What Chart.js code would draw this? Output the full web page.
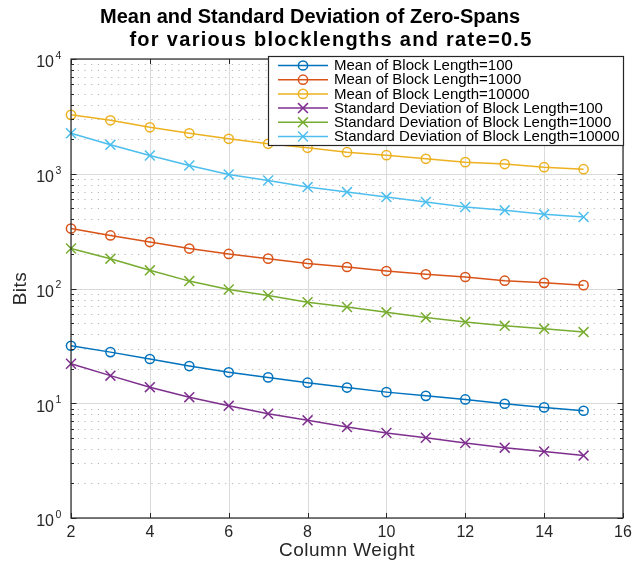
<!DOCTYPE html>
<html>
<head>
<meta charset="utf-8">
<script src="https://cdn.jsdelivr.net/npm/chart.js@4.4.1/dist/chart.umd.min.js"></script>
<style>
  html, body { margin: 0; padding: 0; background: #fff; }
  #wrap { width: 633px; height: 565px; }
</style>
</head>
<body>
<div id="wrap"><canvas id="chart" width="633" height="565"></canvas></div>
<script>
// data
const columnWeight = [2, 3, 4, 5, 6, 7, 8, 9, 10, 11, 12, 13, 14, 15];
const mean100   = [31.7, 27.9, 24.3, 21.1, 18.6, 16.8, 15.1, 13.7, 12.5, 11.6, 10.8, 9.9, 9.2, 8.6];
const mean1000  = [333, 290, 254, 223, 200, 182, 165, 154, 142, 133, 126, 117, 112, 107];
const mean10000 = [3260, 2924, 2541, 2254, 2015, 1824, 1683, 1541, 1452, 1350, 1262, 1215, 1141, 1096];
const std100    = [22.1, 17.4, 13.8, 11.3, 9.5, 8.1, 7.1, 6.2, 5.5, 5.0, 4.5, 4.1, 3.8, 3.5];
const std1000   = [223, 182, 144, 116, 98, 87, 76, 69, 62, 56, 51, 47.3, 44.5, 41.7];
const std10000  = [2254, 1787, 1442, 1181, 986, 874, 765, 692, 626, 567, 513, 480, 443, 420];

const seriesLabels = [
    "Mean of Block Length=100",
    "Mean of Block Length=1000",
    "Mean of Block Length=10000",
    "Standard Deviation of Block Length=100",
    "Standard Deviation of Block Length=1000",
    "Standard Deviation of Block Length=10000",
];
const xTicks = [2, 4, 6, 8, 10, 12, 14, 16];
const yExponents = [0, 1, 2, 3, 4];
const titleLines = ["Mean and Standard Deviation of Zero-Spans", "for various blocklengths and rate=0.5"];

const colors = ["#0072BD", "#D95319", "#EDB120", "#7E2F8E", "#77AC30", "#4DBEEE"];
const allValues = [mean100, mean1000, mean10000, std100, std1000, std10000];
const FONT = "'Liberation Sans', Arial, Helvetica, sans-serif";
const AXIS = "#262626";

function pairs(values) {
    return values.map((v, i) => ({ x: columnWeight[i], y: v }));
}

const datasets = allValues.map((vals, i) => ({
    label: seriesLabels[i],
    data: pairs(vals),
    borderColor: colors[i],
    backgroundColor: colors[i],
    borderWidth: 1.5,
    pointStyle: i < 3 ? "circle" : "crossRot",
    pointRadius: i < 3 ? 4.6 : 7,
    pointBorderWidth: 1.5,
    pointBackgroundColor: "rgba(255,255,255,0)",
    pointBorderColor: colors[i],
    tension: 0,
    clip: false,
    order: 6 - i,
}));

// grid, box, ticks and labels in MATLAB style
const matlabAxes = {
    id: "matlabAxes",
    beforeDatasetsDraw(chart) {
        const { ctx, chartArea: a, scales: { x, y } } = chart;
        ctx.save();
        // minor y grid (dotted)
        ctx.strokeStyle = "#b8b8b8";
        ctx.lineWidth = 1;
        ctx.setLineDash([1.2, 5.5]);
        yExponents.slice(0, -1).forEach(e => {
            for (let m = 2; m <= 9; m++) {
                const py = Math.round(y.getPixelForValue(m * Math.pow(10, e))) + 0.5;
                ctx.beginPath(); ctx.moveTo(a.left, py); ctx.lineTo(a.right, py); ctx.stroke();
            }
        });
        ctx.setLineDash([]);
        // major grid
        ctx.strokeStyle = "#dadada";
        yExponents.forEach(e => {
            const py = Math.round(y.getPixelForValue(Math.pow(10, e))) + 0.5;
            ctx.beginPath(); ctx.moveTo(a.left, py); ctx.lineTo(a.right, py); ctx.stroke();
        });
        xTicks.forEach(t => {
            const px = Math.round(x.getPixelForValue(t)) + 0.5;
            ctx.beginPath(); ctx.moveTo(px, a.top); ctx.lineTo(px, a.bottom); ctx.stroke();
        });
        ctx.restore();
    },
    afterDatasetsDraw(chart) {
        const { ctx, chartArea: a, scales: { x, y } } = chart;
        ctx.save();
        ctx.strokeStyle = AXIS;
        ctx.lineWidth = 1.2;
        ctx.strokeRect(a.left, a.top, a.right - a.left, a.bottom - a.top);
        ctx.lineWidth = 1;
        // x ticks, inward on bottom and top
        xTicks.forEach(t => {
            const px = Math.round(x.getPixelForValue(t)) + 0.5;
            ctx.beginPath();
            ctx.moveTo(px, a.bottom); ctx.lineTo(px, a.bottom - 5);
            ctx.moveTo(px, a.top); ctx.lineTo(px, a.top + 5);
            ctx.stroke();
        });
        // y ticks, inward on left and right
        yExponents.forEach(e => {
            for (let m = 1; m <= 9; m++) {
                if (e === yExponents[yExponents.length - 1] && m > 1) break;
                const py = Math.round(y.getPixelForValue(m * Math.pow(10, e))) + 0.5;
                const len = m === 1 ? 5.5 : 3;
                ctx.beginPath();
                ctx.moveTo(a.left, py); ctx.lineTo(a.left + len, py);
                ctx.moveTo(a.right, py); ctx.lineTo(a.right - len, py);
                ctx.stroke();
            }
        });
        // tick labels
        ctx.fillStyle = AXIS;
        ctx.font = "16px " + FONT;
        ctx.textAlign = "center";
        ctx.textBaseline = "middle";
        xTicks.forEach(t => ctx.fillText(String(t), x.getPixelForValue(t), a.bottom + 15));
        yExponents.forEach(e => {
            const py = y.getPixelForValue(Math.pow(10, e));
            ctx.font = "16px " + FONT;
            ctx.textAlign = "right";
            ctx.fillText("10", a.left - 17, py + 4);
            ctx.font = "10.5px " + FONT;
            ctx.textAlign = "left";
            ctx.fillText(String(e), a.left - 15.5, py - 3);
        });
        // axis titles
        ctx.font = "19px " + FONT;
        ctx.textAlign = "center";
        ctx.letterSpacing = "0.5px";
        ctx.fillText("Column Weight", (a.left + a.right) / 2, a.bottom + 33);
        ctx.save();
        ctx.translate(21, (a.top + a.bottom) / 2);
        ctx.rotate(-Math.PI / 2);
        ctx.fillText("Bits", 0, 0);
        ctx.restore();
        // title
        ctx.fillStyle = "#000";
        ctx.font = "bold 20px " + FONT;
        ctx.letterSpacing = "0px";
        ctx.fillText(titleLines[0], 310, 17);
        ctx.letterSpacing = "1.3px";
        ctx.fillText(titleLines[1], 331, 40);
        ctx.letterSpacing = "0px";
        ctx.restore();
    },
};

// boxed legend with line + marker samples, top right inside the axes
const boxLegend = {
    id: "boxLegend",
    afterDraw(chart) {
        const { ctx, chartArea: a } = chart;
        const left = 268.5, right = a.right + 0.5, top = 56.5, bottom = 145.5;
        ctx.save();
        ctx.fillStyle = "#fff";
        ctx.fillRect(left, top, right - left, bottom - top);
        ctx.strokeStyle = AXIS;
        ctx.lineWidth = 1.2;
        ctx.strokeRect(left, top, right - left, bottom - top);
        chart.data.datasets.forEach((ds, i) => {
            const cy = top + 9 + i * 14.2;
            ctx.strokeStyle = ds.borderColor;
            ctx.lineWidth = 1.5;
            ctx.beginPath(); ctx.moveTo(278, cy); ctx.lineTo(328, cy); ctx.stroke();
            if (ds.pointStyle === "circle") {
                ctx.beginPath(); ctx.arc(303, cy, ds.pointRadius, 0, Math.PI * 2); ctx.stroke();
            } else {
                const d = ds.pointRadius * Math.SQRT1_2;
                ctx.beginPath();
                ctx.moveTo(303 - d, cy - d); ctx.lineTo(303 + d, cy + d);
                ctx.moveTo(303 - d, cy + d); ctx.lineTo(303 + d, cy - d);
                ctx.stroke();
            }
            ctx.fillStyle = "#000";
            ctx.font = "15px " + FONT;
            ctx.textAlign = "left";
            ctx.textBaseline = "middle";
            ctx.fillText(ds.label, 334, cy + 0.5);
        });
        ctx.restore();
    },
};

new Chart(document.getElementById("chart"), {
    type: "line",
    data: { datasets: datasets },
    options: {
        responsive: false,
        animation: false,
        layout: { padding: { left: 71, right: 10, top: 59, bottom: 47 } },
        scales: {
            x: { type: "linear", min: 2, max: 16, display: false },
            y: { type: "logarithmic", min: 1, max: 10000, display: false },
        },
        plugins: {
            legend: { display: false },
            title: { display: false },
            tooltip: { enabled: false },
        },
    },
    plugins: [matlabAxes, boxLegend],
});
</script>
</body>
</html>
